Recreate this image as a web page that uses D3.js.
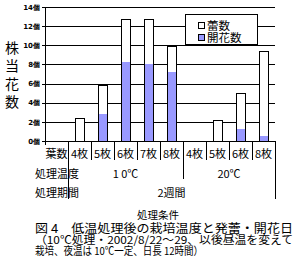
<!DOCTYPE html>
<html>
<head>
<meta charset="utf-8">
<script src="https://cdn.jsdelivr.net/npm/d3@7"></script>
<style>
body { margin: 0; background: white; }
text { font-family: "Noto Sans CJK JP", sans-serif; fill: black; }
</style>
</head>
<body>
<script>
//chart data
var leafLabels = ["4枚","5枚","6枚","7枚","8枚","4枚","5枚","6枚","8枚"];
var budValues = [2.4, 5.85, 12.7, 12.7, 9.9, 0, 2.2, 5.0, 9.4];
var flowerValues = [0, 2.9, 8.35, 8.15, 7.3, 0, 0, 1.35, 0.6];
var yTicks = [0, 2, 4, 6, 8, 10, 12, 14];
var tempGroups = [{label: "1 0℃", from: 0, to: 4}, {label: "20℃", from: 5, to: 8}];
var legendItems = ["蕾数", "開花数"];
var yTitle = ["株", "当", "花", "数"];
var captionLines = ["図 4　低温処理後の栽培温度と発蕾・開花日",
	"（10℃処理・2002/8/22～29、以後昼温を変えて",
	"栽培、夜温は 10℃一定、日長 12時間）"];

var w = 294, h = 261,
	plotL = 45, plotR = 275, plotT = 7, plotB = 141,
	flowerColor = "#9999ff";

var svg = d3.select("body").append("svg")
	.attr("width", w)
	.attr("height", h)
	.style("shape-rendering", "crispEdges");

var ids = leafLabels.map(function(d, i){ return "c" + i; });

var x = d3.scaleBand()
	.domain(["head"].concat(ids))
	.range([plotL, plotR]);

var y = d3.scaleLinear().domain([0, 14]).range([plotB, plotT]);

//gridlines
svg.append("g").selectAll("line")
	.data(yTicks.slice(1))
	.enter().append("line")
	.attr("x1", plotL).attr("x2", plotR)
	.attr("y1", function(d){ return Math.round(y(d)) + 0.5; })
	.attr("y2", function(d){ return Math.round(y(d)) + 0.5; })
	.attr("stroke", "black");

//y axis
var yAxis = d3.axisLeft(y)
	.tickValues(yTicks)
	.tickSize(3)
	.tickPadding(2)
	.tickFormat(function(d){ return d + "個"; });

var ya = svg.append("g")
	.attr("transform", "translate(" + plotL + ",0)")
	.call(yAxis);
ya.select(".domain").remove();
ya.selectAll("line").attr("stroke", "black");
ya.selectAll("text")
	.style("font-family", "'DejaVu Sans', sans-serif")
	.style("font-size", "7px")
	.style("font-weight", "bold");

svg.append("line")
	.attr("x1", plotL + 0.5).attr("x2", plotL + 0.5)
	.attr("y1", plotT).attr("y2", plotB)
	.attr("stroke", "black");

//bars
var bw = 9;
var bars = svg.append("g");
bars.selectAll("rect.bud")
	.data(budValues)
	.enter().append("rect")
	.attr("class", "bud")
	.attr("x", function(d, i){ return Math.round(x(ids[i]) + (x.bandwidth() - bw) / 2) + 0.5; })
	.attr("y", function(d){ return Math.round(y(d)) + 0.5; })
	.attr("width", bw)
	.attr("height", function(d){ return Math.round(y(0)) - Math.round(y(d)); })
	.attr("fill", "white")
	.attr("stroke", function(d){ return d > 0 ? "black" : "none"; });

bars.selectAll("rect.flower")
	.data(flowerValues)
	.enter().append("rect")
	.attr("class", "flower")
	.attr("x", function(d, i){ return Math.round(x(ids[i]) + (x.bandwidth() - bw) / 2) + 1; })
	.attr("y", function(d){ return Math.round(y(d)) + 0.5; })
	.attr("width", bw - 1)
	.attr("height", function(d){ return Math.round(y(0)) - Math.round(y(d)); })
	.attr("fill", flowerColor)
	.attr("stroke", "none");

//x axis line
svg.append("line")
	.attr("x1", plotL).attr("x2", plotR)
	.attr("y1", plotB + 0.5).attr("y2", plotB + 0.5)
	.attr("stroke", "black");

//legend
var lg = svg.append("g");
lg.append("rect")
	.attr("x", 185.5).attr("y", 14.5)
	.attr("width", 72).attr("height", 30)
	.attr("fill", "white").attr("stroke", "black");
legendItems.forEach(function(d, i){
	lg.append("rect")
		.attr("x", 198.5).attr("y", 22.5 + i * 12)
		.attr("width", 6).attr("height", 6)
		.attr("fill", i == 0 ? "white" : flowerColor)
		.attr("stroke", "black");
	lg.append("text")
		.attr("x", 207).attr("y", 29.5 + i * 12)
		.style("font-size", "11.5px")
		.text(d);
});

//y title
svg.append("g").selectAll("text")
	.data(yTitle)
	.enter().append("text")
	.attr("x", 12)
	.attr("y", function(d, i){ return 53 + i * 18; })
	.attr("text-anchor", "middle")
	.style("font-size", "14px")
	.text(function(d){ return d; });

//table under the chart
var table = svg.append("g");
var edges = x.domain().map(function(d){ return x(d); }).concat([plotR]);
edges.forEach(function(e, i){
	var y2 = 160;
	if (i == 0) y2 = 145;
	if (i == 1 || i == edges.length - 1) y2 = 199;
	if (i == 6) y2 = 179;
	table.append("line")
		.attr("x1", Math.round(e) + 0.5).attr("x2", Math.round(e) + 0.5)
		.attr("y1", plotB).attr("y2", y2)
		.attr("stroke", "black");
});

table.append("text")
	.attr("x", x("head") + x.bandwidth() / 2).attr("y", 158)
	.attr("text-anchor", "middle")
	.style("font-size", "11px")
	.text("葉数");

table.selectAll("text.leaf")
	.data(leafLabels)
	.enter().append("text")
	.attr("class", "leaf")
	.attr("x", function(d, i){ return x(ids[i]) + x.bandwidth() / 2; })
	.attr("y", 158)
	.attr("text-anchor", "middle")
	.style("font-size", "11px")
	.text(function(d){ return d; });

table.append("text")
	.attr("x", 35).attr("y", 178)
	.style("font-size", "11px")
	.text("処理温度");
tempGroups.forEach(function(g){
	var cx = (x(ids[g.from]) + x(ids[g.to]) + x.bandwidth()) / 2;
	table.append("text")
		.attr("x", cx).attr("y", 178)
		.attr("text-anchor", "middle")
		.style("font-size", "11px")
		.text(g.label);
});

table.append("text")
	.attr("x", 35).attr("y", 197)
	.style("font-size", "11px")
	.text("処理期間");
table.append("text")
	.attr("x", (x(ids[0]) + plotR) / 2).attr("y", 197)
	.attr("text-anchor", "middle")
	.style("font-size", "11px")
	.text("2週間");

svg.append("text")
	.attr("x", 158).attr("y", 219)
	.attr("text-anchor", "middle")
	.style("font-size", "10.5px")
	.text("処理条件");

//caption
var capLen = [258, 258, 168];
captionLines.forEach(function(line, i){
	svg.append("text")
		.attr("x", 35)
		.attr("y", 233 + i * 11)
		.attr("textLength", capLen[i])
		.attr("lengthAdjust", "spacingAndGlyphs")
		.style("font-size", i == 0 ? "12px" : "11px")
		.text(line);
});
</script>
</body>
</html>
